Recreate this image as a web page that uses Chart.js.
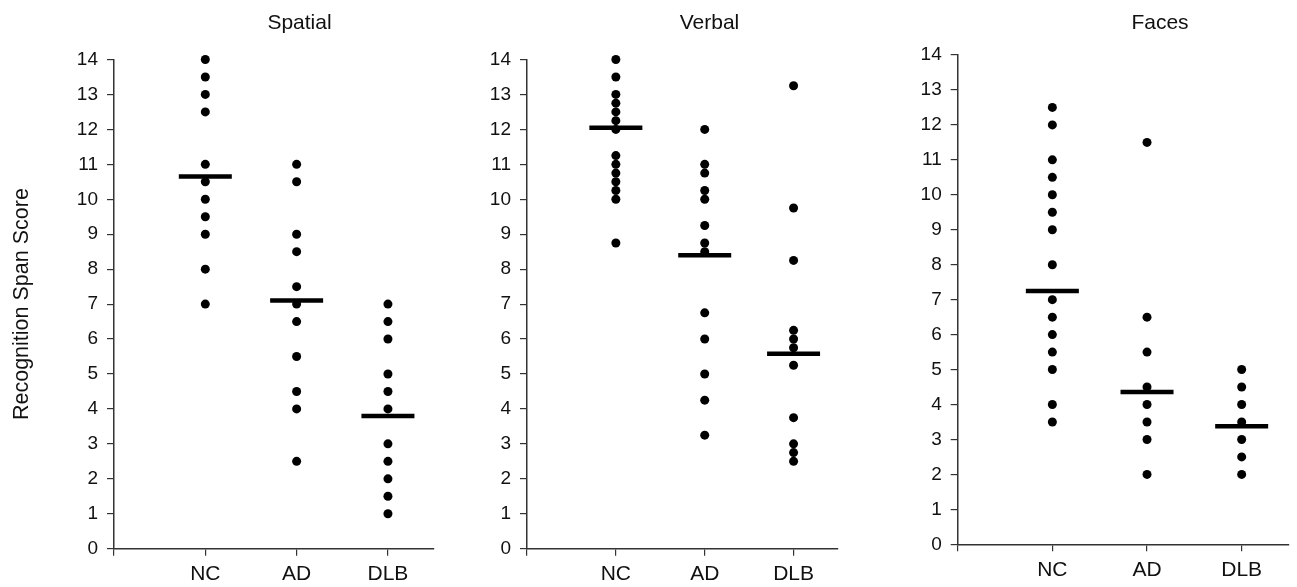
<!DOCTYPE html>
<html>
<head>
<meta charset="utf-8">
<script src="https://cdn.jsdelivr.net/npm/chart.js@4.4.1/dist/chart.umd.min.js"></script>
<style>
  body { margin: 0; background: #fff; }
  #wrap { position: relative; width: 1297px; height: 587px; }
  .panel { position: absolute; top: 0; }
</style>
</head>
<body>
<div id="wrap">
  <div class="panel" style="left:0"><canvas id="spatial" width="440" height="587"></canvas></div>
  <div class="panel" style="left:440px"><canvas id="verbal" width="410" height="587"></canvas></div>
  <div class="panel" style="left:850px"><canvas id="faces" width="447" height="587"></canvas></div>
</div>
<script>
// grupos e escala
const groups = ['NC', 'AD', 'DLB'];
const yTicks = [0, 1, 2, 3, 4, 5, 6, 7, 8, 9, 10, 11, 12, 13, 14];

// Spatial
const spatialNC = [14, 13.5, 13, 12.5, 11, 10.5, 10, 9.5, 9, 8, 7];
const spatialAD = [11, 10.5, 9, 8.5, 7.5, 7, 6.5, 5.5, 4.5, 4, 2.5];
const spatialDLB = [7, 6.5, 6, 5, 4.5, 4, 3, 2.5, 2, 1.5, 1];
const spatialMeans = [10.65, 7.1, 3.8];

// Verbal
const verbalNC = [14, 13.5, 13, 12.75, 12.5, 12.25, 12, 11.25, 11, 10.75, 10.5, 10.25, 10, 8.75];
const verbalAD = [12, 11, 10.75, 10.25, 10, 9.25, 8.75, 8.5, 6.75, 6, 5, 4.25, 3.25];
const verbalDLB = [13.25, 9.75, 8.25, 6.25, 6, 5.75, 5.25, 3.75, 3, 2.75, 2.5];
const verbalMeans = [12.05, 8.4, 5.58];

// Faces
const facesNC = [12.5, 12, 11, 10.5, 10, 9.5, 9, 8, 7, 6.5, 6, 5.5, 5, 4, 3.5];
const facesAD = [11.5, 6.5, 5.5, 4.5, 4, 3.5, 3, 2];
const facesDLB = [5, 4.5, 4, 3.5, 3, 2.5, 2];
const facesMeans = [7.25, 4.36, 3.38];

const FONT = '"Liberation Sans", Arial, sans-serif';
const INK = '#111';
const AXIS = '#333';

// titulo de cada painel
const panelTitle = {
  id: 'panelTitle',
  afterDraw(chart, args, opts) {
    const ctx = chart.ctx;
    ctx.save();
    ctx.font = '21px ' + FONT;
    ctx.fillStyle = INK;
    ctx.textAlign = 'center';
    ctx.textBaseline = 'alphabetic';
    ctx.fillText(opts.text, opts.x, opts.y);
    ctx.restore();
  }
};

function makePanel(id, title, nc, ad, dlb, means, opt) {
  const points = [];
  [nc, ad, dlb].forEach((vals, i) => {
    vals.forEach(v => points.push({ x: i + 1, y: v }));
  });

  new Chart(document.getElementById(id), {
    type: 'scatter',
    data: {
      datasets: [
        {
          data: means.map((m, i) => ({ x: i + 1, y: m })),
          pointStyle: 'line',
          pointRadius: 26.5,
          pointBorderWidth: 4.5,
          pointBorderColor: '#000',
          pointBackgroundColor: '#000',
          clip: false,
          order: 0
        },
        {
          data: points,
          pointRadius: 4.5,
          pointBorderWidth: 0,
          pointBackgroundColor: '#000',
          clip: false,
          order: 1
        }
      ]
    },
    options: {
      responsive: false,
      animation: false,
      events: [],
      layout: {
        autoPadding: false,
        padding: { top: opt.top, right: opt.right, bottom: 0, left: 0 }
      },
      plugins: {
        legend: { display: false },
        tooltip: { enabled: false },
        panelTitle: { text: title, x: opt.titleX, y: opt.titleY }
      },
      scales: {
        x: {
          type: 'linear',
          min: 0,
          max: 3.5,
          afterBuildTicks: s => { s.ticks = [0, 1, 2, 3].map(v => ({ value: v })); },
          afterFit: s => {
            s.height = opt.bottom;
            s.paddingLeft = 0;
            s.paddingRight = 0;
          },
          grid: { drawOnChartArea: false, tickLength: 7, color: AXIS, lineWidth: 1.2 },
          border: { color: AXIS, width: 1.5 },
          ticks: {
            callback: v => groups[v - 1] || '',
            autoSkip: false,
            maxRotation: 0,
            padding: 6,
            color: INK,
            font: { family: FONT, size: 21 }
          }
        },
        y: {
          min: 0,
          max: 14,
          afterBuildTicks: s => { s.ticks = yTicks.map(v => ({ value: v })); },
          afterFit: s => {
            s.width = opt.left;
            s.paddingTop = 0;
            s.paddingBottom = 0;
          },
          grid: { drawOnChartArea: false, tickLength: 7, color: AXIS, lineWidth: 1.2 },
          border: { color: AXIS, width: 1.5 },
          ticks: {
            padding: 9,
            color: INK,
            font: { family: FONT, size: 19 }
          },
          title: {
            display: !!opt.yTitle,
            text: opt.yTitle || '',
            color: INK,
            font: { family: FONT, size: 21.5 },
            padding: { top: 9, bottom: 0 }
          }
        }
      }
    },
    plugins: [panelTitle]
  });
}

makePanel('spatial', 'Spatial', spatialNC, spatialAD, spatialDLB, spatialMeans,
  { left: 114, right: 6.4, top: 59.5, bottom: 38.3, titleX: 299.5, titleY: 29, yTitle: 'Recognition Span Score' });
makePanel('verbal', 'Verbal', verbalNC, verbalAD, verbalDLB, verbalMeans,
  { left: 87, right: 12, top: 59.5, bottom: 38.3, titleX: 269.5, titleY: 29 });
makePanel('faces', 'Faces', facesNC, facesAD, facesDLB, facesMeans,
  { left: 107.7, right: 8, top: 55, bottom: 42.7, titleX: 310, titleY: 29 });
</script>
</body>
</html>
